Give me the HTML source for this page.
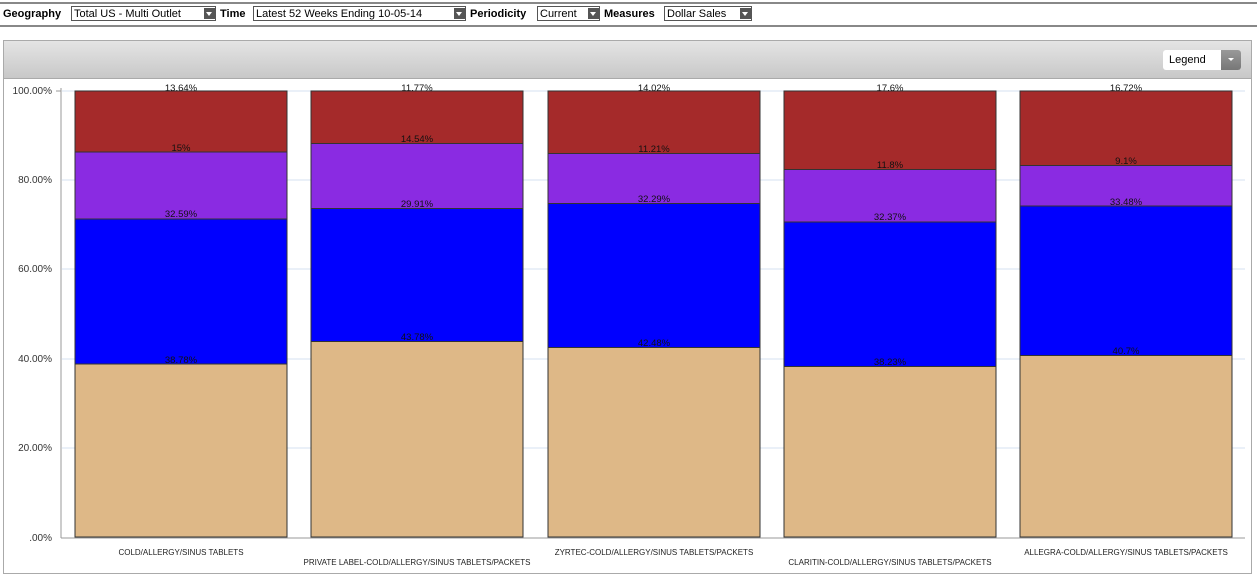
<!DOCTYPE html>
<html><head><style>
body{margin:0;width:1257px;height:575px;background:#fff;font-family:"Liberation Sans",Verdana,sans-serif;overflow:hidden;position:relative}
.top{position:absolute;left:0;top:2px;width:1257px;height:21px;border-top:2px solid #888;border-bottom:2px solid #888;}
.top span{position:absolute;top:4px;font-size:11px;font-weight:bold}
.sel{position:absolute;top:2px;height:15px;border:1px solid #555;font-size:11px;line-height:15px;padding-left:2px;box-sizing:border-box;background:#fff}
.sel i{position:absolute;right:0;top:1px;width:11px;height:11px;background:#555}
.sel i:after{content:"";position:absolute;left:2px;top:4px;border-left:3.5px solid transparent;border-right:3.5px solid transparent;border-top:4px solid #fff}
.panel{position:absolute;left:3px;top:40px;width:1247px;height:532px;border:1px solid #aaa}
.hdr{position:absolute;left:0;top:0;width:1247px;height:37px;background:linear-gradient(#e4e4e4,#c8c8c8);border-bottom:1px solid #aaa}
.leg{position:absolute;left:1159px;top:9px;width:78px;height:20px;background:#fff;border-radius:3px;font-size:11px;line-height:20px;padding-left:6px;box-sizing:border-box}
.leg b{position:absolute;right:0;top:0;width:20px;height:20px;background:linear-gradient(#999,#777);border-radius:0 3px 3px 0}
.leg b:after{content:"";position:absolute;left:7px;top:8px;border-left:3px solid transparent;border-right:3px solid transparent;border-top:3px solid #fff}
svg{position:absolute;left:0;top:0}
</style></head><body>
<div class="top">
<span style="left:3px">Geography</span><div class="sel" style="left:71px;width:145px">Total US - Multi Outlet<i></i></div>
<span style="left:220px">Time</span><div class="sel" style="left:253px;width:213px">Latest 52 Weeks Ending 10-05-14<i></i></div>
<span style="left:470px">Periodicity</span><div class="sel" style="left:537px;width:63px">Current<i></i></div>
<span style="left:604px">Measures</span><div class="sel" style="left:664px;width:88px">Dollar Sales<i></i></div>
</div>
<div class="panel"><div class="hdr"><div class="leg">Legend<b></b></div></div></div>
<svg width="1257" height="575" font-family="Liberation Sans, sans-serif" font-size="9.5">
<g stroke="#e3ecf5" stroke-width="1.5">
<line x1="62" x2="1245" y1="91" y2="91"/><line x1="62" x2="1245" y1="180" y2="180"/><line x1="62" x2="1245" y1="269" y2="269"/><line x1="62" x2="1245" y1="359" y2="359"/><line x1="62" x2="1245" y1="448" y2="448"/>
</g>
<g text-anchor="end" fill="#333" font-size="10">
<text x="52" y="94">100.00%</text><text x="52" y="183">80.00%</text><text x="52" y="272">60.00%</text><text x="52" y="362">40.00%</text><text x="52" y="451">20.00%</text><text x="52" y="541">.00%</text>
</g>
<line x1="61" y1="88" x2="61" y2="538" stroke="#999"/>
<line x1="56" y1="91" x2="61" y2="91" stroke="#999"/>
<line x1="61" y1="538" x2="1245" y1="538" y2="538" stroke="#999"/>
<g stroke="#333" stroke-width="1">
<rect x="75" y="91" width="212" height="61" fill="#a52a2a"/><rect x="75" y="152" width="212" height="67" fill="#8a2be2"/><rect x="75" y="219" width="212" height="145" fill="#0000ff"/><rect x="75" y="364" width="212" height="173" fill="#deb887"/>
<rect x="311" y="91" width="212" height="52.5" fill="#a52a2a"/><rect x="311" y="143.5" width="212" height="65" fill="#8a2be2"/><rect x="311" y="208.5" width="212" height="133" fill="#0000ff"/><rect x="311" y="341.5" width="212" height="195.5" fill="#deb887"/>
<rect x="548" y="91" width="212" height="62.5" fill="#a52a2a"/><rect x="548" y="153.5" width="212" height="50" fill="#8a2be2"/><rect x="548" y="203.5" width="212" height="144" fill="#0000ff"/><rect x="548" y="347.5" width="212" height="189.5" fill="#deb887"/>
<rect x="784" y="91" width="212" height="78.5" fill="#a52a2a"/><rect x="784" y="169.5" width="212" height="52.5" fill="#8a2be2"/><rect x="784" y="222" width="212" height="144.5" fill="#0000ff"/><rect x="784" y="366.5" width="212" height="170.5" fill="#deb887"/>
<rect x="1020" y="91" width="212" height="74.5" fill="#a52a2a"/><rect x="1020" y="165.5" width="212" height="40.5" fill="#8a2be2"/><rect x="1020" y="206" width="212" height="149.5" fill="#0000ff"/><rect x="1020" y="355.5" width="212" height="181.5" fill="#deb887"/>
</g>
<g text-anchor="middle" fill="#111">
<text x="181" y="91">13.64%</text><text x="181" y="151">15%</text><text x="181" y="217">32.59%</text><text x="181" y="363">38.78%</text>
<text x="417" y="91">11.77%</text><text x="417" y="142">14.54%</text><text x="417" y="207">29.91%</text><text x="417" y="340">43.78%</text>
<text x="654" y="91">14.02%</text><text x="654" y="152">11.21%</text><text x="654" y="202">32.29%</text><text x="654" y="346">42.48%</text>
<text x="890" y="91">17.6%</text><text x="890" y="168">11.8%</text><text x="890" y="220">32.37%</text><text x="890" y="365">38.23%</text>
<text x="1126" y="91">16.72%</text><text x="1126" y="164">9.1%</text><text x="1126" y="205">33.48%</text><text x="1126" y="354">40.7%</text>
</g>
<g text-anchor="middle" fill="#222" font-size="8">
<text x="181" y="555">COLD/ALLERGY/SINUS TABLETS</text>
<text x="417" y="565">PRIVATE LABEL-COLD/ALLERGY/SINUS TABLETS/PACKETS</text>
<text x="654" y="555">ZYRTEC-COLD/ALLERGY/SINUS TABLETS/PACKETS</text>
<text x="890" y="565">CLARITIN-COLD/ALLERGY/SINUS TABLETS/PACKETS</text>
<text x="1126" y="555">ALLEGRA-COLD/ALLERGY/SINUS TABLETS/PACKETS</text>
</g>
</svg>
</body></html>
